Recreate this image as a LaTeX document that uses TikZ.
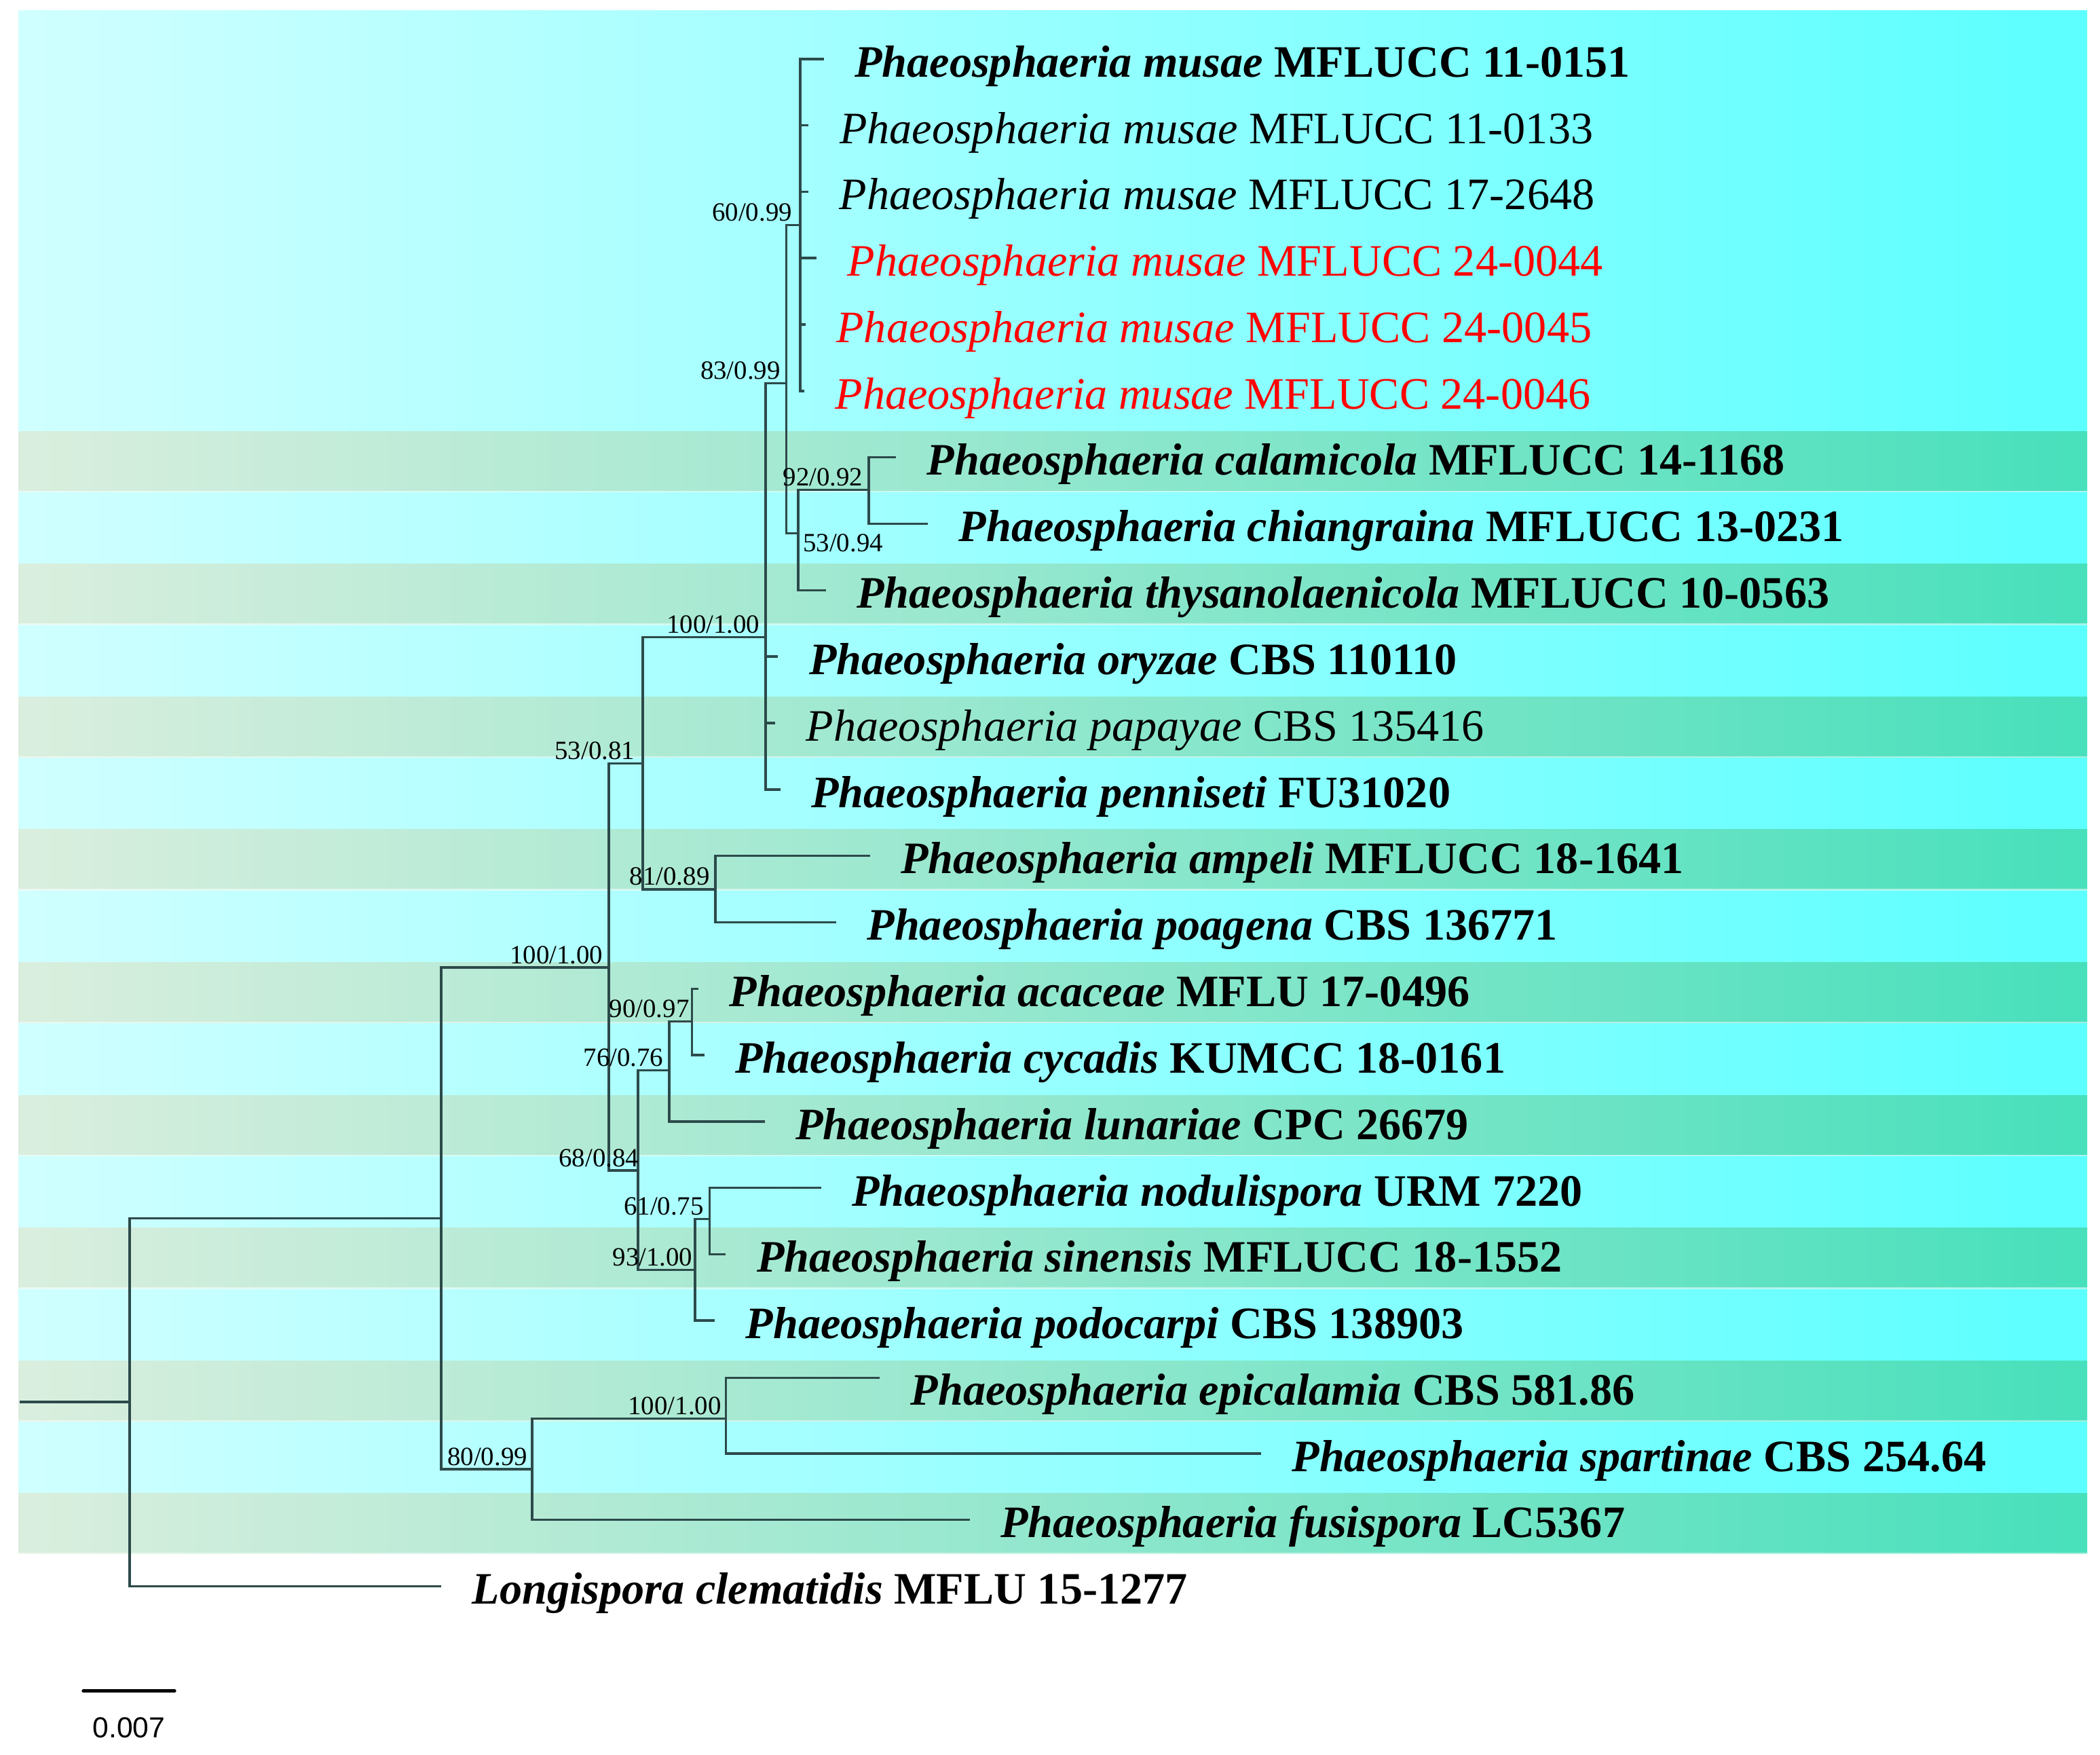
\documentclass[tikz,border=0pt]{standalone}
\usepackage{fontspec}
\setmainfont{Liberation Serif}
\newfontfamily\barfont{Liberation Sans}
\usepackage{tikz}

\definecolor{cyanL}{RGB}{208,255,255}
\definecolor{cyanR}{RGB}{92,255,255}
\definecolor{greenL}{RGB}{218,238,222}
\definecolor{greenR}{RGB}{72,224,188}
\definecolor{branchcol}{RGB}{44,74,74}
\definecolor{newred}{RGB}{255,0,0}

\tikzstyle{taxon} = [anchor=base west, inner sep=0pt, xshift=13pt, yshift=-7.6pt, font=\fontsize{19.1}{22}\selectfont]
\tikzstyle{taxonb} = [taxon, font=\fontsize{19.1}{22}\selectfont\bfseries]
\tikzstyle{newtaxon} = [taxon, text=newred]
\tikzstyle{support} = [anchor=base east, inner sep=0pt, xshift=-2.3pt, yshift=1.7pt, font=\fontsize{11.2}{13}\selectfont]
\tikzstyle{branch} = [line width=1pt, draw=branchcol]

\begin{document}
\begin{tikzpicture}[x=0.02cm,y=-0.02cm]
\useasboundingbox (0,0) rectangle (1568,1310);

% background bands
\shade[left color=cyanL, right color=cyanR] (14,8) rectangle (1558.4,1159.8);
\foreach \k in {6,8,...,22}{
  \shade[left color=greenL, right color=greenR] (14,{47+49.56*\k-22.5}) rectangle (1558.4,{47+49.56*\k+22.5});
  \draw[white, opacity=0.5, line width=0.7pt] (14,{47+49.56*\k+22.5}) -- (1558.4,{47+49.56*\k+22.5});
}

% internal nodes
\coordinate (root) at (14.5,1046.5);
\coordinate (nA) at (96.7,1046.5);
\coordinate (nB) at (329.4,909.5);
\coordinate (nC) at (454.6,722.2);
\coordinate (n5381) at (480,570);
\coordinate (n100a) at (571.6,475.5);
\coordinate (n83) at (587,286);
\coordinate (n60) at (597.5,168);
\coordinate (n53) at (596,398);
\coordinate (n92) at (648.7,365.7);
\coordinate (n81) at (534.2,663.8);
\coordinate (n68) at (476.4,873.8);
\coordinate (n76) at (499.7,799);
\coordinate (n90) at (516.7,762.5);
\coordinate (n93) at (519,948);
\coordinate (n61) at (529.8,910);
\coordinate (n80) at (397.2,1096.7);
\coordinate (n100b) at (542,1059);

% tips
\coordinate (t0) at (615,44);
\coordinate (t1) at (603.7,93.6);
\coordinate (t2) at (603.5,143.1);
\coordinate (t3) at (609.7,192.7);
\coordinate (t4) at (601.4,242.3);
\coordinate (t5) at (600.5,291.9);
\coordinate (t6) at (669,341.4);
\coordinate (t7) at (692.8,391);
\coordinate (t8) at (616.6,440.6);
\coordinate (t9) at (581,490.1);
\coordinate (t10) at (578.8,539.7);
\coordinate (t11) at (582.6,589.3);
\coordinate (t12) at (649.5,638.8);
\coordinate (t13) at (624.3,688.4);
\coordinate (t14) at (521.5,738);
\coordinate (t15) at (525.9,787.6);
\coordinate (t16) at (571,837.1);
\coordinate (t17) at (613,886.7);
\coordinate (t18) at (541.9,936.3);
\coordinate (t19) at (533.7,985.8);
\coordinate (t20) at (656.8,1028.6);
\coordinate (t21) at (941.5,1085);
\coordinate (t22) at (724,1134.5);
\coordinate (t23) at (329.4,1184.1);

% branches
\draw[branch] (root) -- (nA);
\draw[branch] (nA) |- (nB) (nA) |- (t23);
\draw[branch] (nB) |- (nC) (nB) |- (n80);
\draw[branch] (n80) |- (n100b) (n80) |- (t22);
\draw[branch] (n100b) |- (t20) (n100b) |- (t21);
\draw[branch] (nC) |- (n5381) (nC) |- (n68);
\draw[branch] (n5381) |- (n100a) (n5381) |- (n81);
\draw[branch] (n81) |- (t12) (n81) |- (t13);
\draw[branch] (n100a) |- (n83) (n100a) |- (t9) (n100a) |- (t10) (n100a) |- (t11);
\draw[branch] (n83) |- (n60) (n83) |- (n53);
\draw[branch] (n60) |- (t0) (n60) |- (t1) (n60) |- (t2) (n60) |- (t3) (n60) |- (t4) (n60) |- (t5);
\draw[branch] (n53) |- (n92) (n53) |- (t8);
\draw[branch] (n92) |- (t6) (n92) |- (t7);
\draw[branch] (n68) |- (n76) (n68) |- (n93);
\draw[branch] (n76) |- (n90) (n76) |- (t16);
\draw[branch] (n90) |- (t14) (n90) |- (t15);
\draw[branch] (n93) |- (n61) (n93) |- (t19);
\draw[branch] (n61) |- (t17) (n61) |- (t18);

% support values
\node(s60)[support, xshift=-1pt] at (n60) {60/0.99};
\node(s83)[support] at (n83) {83/0.99};
\node(s92)[support] at (n92) {92/0.92};
\node(s53a)[support, anchor=base west, xshift=4.2pt, yshift=-9.6pt] at (n53) {53/0.94};
\node(s100a)[support] at (n100a) {100/1.00};
\node(s5381)[support, xshift=-1pt] at (n5381) {53/0.81};
\node(s81)[support] at (n81) {81/0.89};
\node(s100c)[support] at (nC) {100/1.00};
\node(s90)[support, xshift=1.3pt] at (n90) {90/0.97};
\node(s76)[support] at (n76) {76/0.76};
\node(s68)[support, xshift=2.8pt] at (n68) {68/0.84};
\node(s61)[support] at (n61) {61/0.75};
\node(s93)[support, xshift=1.4pt] at (n93) {93/1.00};
\node(s100b)[support, xshift=0.5pt] at (n100b) {100/1.00};
\node(s80)[support, xshift=0.5pt] at (n80) {80/0.99};

% taxa
\node(l0)[taxonb] at (t0) {\textit{Phaeosphaeria musae} MFLUCC 11-0151};
\node(l1)[taxon] at (t1) {\textit{Phaeosphaeria musae} MFLUCC 11-0133};
\node(l2)[taxon] at (t2) {\textit{Phaeosphaeria musae} MFLUCC 17-2648};
\node(l3)[newtaxon] at (t3) {\textit{Phaeosphaeria musae} MFLUCC 24-0044};
\node(l4)[newtaxon] at (t4) {\textit{Phaeosphaeria musae} MFLUCC 24-0045};
\node(l5)[newtaxon] at (t5) {\textit{Phaeosphaeria musae} MFLUCC 24-0046};
\node(l6)[taxonb] at (t6) {\textit{Phaeosphaeria calamicola} MFLUCC 14-1168};
\node(l7)[taxonb] at (t7) {\textit{Phaeosphaeria chiangraina} MFLUCC 13-0231};
\node(l8)[taxonb] at (t8) {\textit{Phaeosphaeria thysanolaenicola} MFLUCC 10-0563};
\node(l9)[taxonb] at (t9) {\textit{Phaeosphaeria oryzae} CBS 110110};
\node(l10)[taxon] at (t10) {\textit{Phaeosphaeria papayae} CBS 135416};
\node(l11)[taxonb] at (t11) {\textit{Phaeosphaeria penniseti} FU31020};
\node(l12)[taxonb] at (t12) {\textit{Phaeosphaeria ampeli} MFLUCC 18-1641};
\node(l13)[taxonb] at (t13) {\textit{Phaeosphaeria poagena} CBS 136771};
\node(l14)[taxonb] at (t14) {\textit{Phaeosphaeria acaceae} MFLU 17-0496};
\node(l15)[taxonb] at (t15) {\textit{Phaeosphaeria cycadis} KUMCC 18-0161};
\node(l16)[taxonb] at (t16) {\textit{Phaeosphaeria lunariae} CPC 26679};
\node(l17)[taxonb] at (t17) {\textit{Phaeosphaeria nodulispora} URM 7220};
\node(l18)[taxonb] at (t18) {\textit{Phaeosphaeria sinensis} MFLUCC 18-1552};
\node(l19)[taxonb] at (t19) {\textit{Phaeosphaeria podocarpi} CBS 138903};
\node(l20)[taxonb, yshift=-3.9pt] at (t20) {\textit{Phaeosphaeria epicalamia} CBS 581.86};
\node(l21)[taxonb] at (t21) {\textit{Phaeosphaeria spartinae} CBS 254.64};
\node(l22)[taxonb] at (t22) {\textit{Phaeosphaeria fusispora} LC5367};
\node(l23)[taxonb] at (t23) {\textit{Longispora clematidis} MFLU 15-1277};

% scale bar
\coordinate (sb1) at (62.2,1262.3);
\coordinate (sb2) at (130.4,1262.3);
\draw[line width=1.35pt, line cap=round] (sb1) -- (sb2);
\node(sblab)[font=\barfont\fontsize{12.3}{14}\selectfont] at (96.3,1289.8) {0.007};
\end{tikzpicture}
\end{document}
